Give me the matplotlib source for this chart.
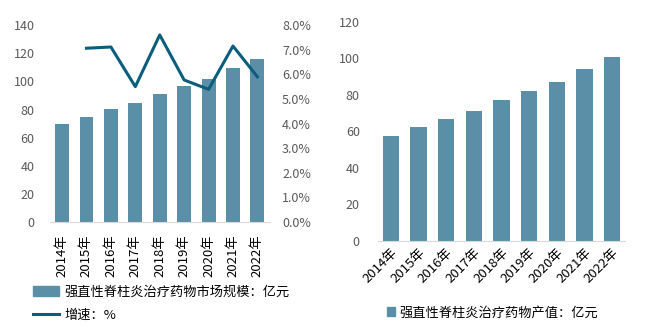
import matplotlib.pyplot as plt
import matplotlib.patches as mpatches
from matplotlib.lines import Line2D
from matplotlib.ticker import PercentFormatter

plt.rcParams['font.family'] = ['Noto Sans CJK SC', 'DejaVu Sans']

# data
years = ['2014年', '2015年', '2016年', '2017年', '2018年', '2019年', '2020年', '2021年', '2022年']
market = [69.8, 74.8, 80.4, 84.6, 90.8, 96.6, 101.6, 109.3, 115.8]
growth = [None, 7.06, 7.11, 5.50, 7.60, 5.77, 5.39, 7.15, 5.90]
output = [57.5, 62.4, 66.8, 71.2, 77.3, 82.2, 87.1, 94.2, 100.8]

bar_c = '#5b8fa7'
line_c = '#0a5d7c'
txt_c = '#595959'
axis_c = '#d9d9d9'

fig = plt.figure(figsize=(6.56, 3.30), dpi=100)

# left chart
ax = fig.add_axes([0.076, 0.327, 0.335, 0.597])
x = range(len(years))
ax.bar(x, market, width=0.57, color=bar_c, zorder=2)
ax.set_ylim(0, 140)
ax.set_yticks(range(0, 141, 20))
ax.set_xlim(-0.5, len(years) - 0.5)
ax.set_xticks(list(x))
ax.set_xticklabels(years, rotation=90, fontsize=9.5, color='black')
for s in ['top', 'left', 'right']:
    ax.spines[s].set_visible(False)
ax.spines['bottom'].set_color(axis_c)
ax.tick_params(axis='y', length=0, labelsize=9, colors=txt_c, pad=11)
ax.tick_params(axis='x', length=0, colors='black', pad=9)
ax2 = ax.twinx()
gx = [i for i, g in enumerate(growth) if g is not None]
gy = [g for g in growth if g is not None]
ax2.plot(gx, gy, color=line_c, lw=2.2, zorder=3)
ax2.set_ylim(0, 8)
ax2.set_yticks(range(0, 9))
ax2.yaxis.set_major_formatter(PercentFormatter(decimals=1))
for s in ['top', 'left', 'right', 'bottom']:
    ax2.spines[s].set_visible(False)
ax2.tick_params(axis='y', length=0, labelsize=9, colors=txt_c, pad=9)

h1 = mpatches.Patch(color=bar_c, label='强直性脊柱炎治疗药物市场规模：亿元')
h2 = Line2D([], [], color=line_c, lw=2.2, label='增速：%')
fig.legend(handles=[h1, h2], loc='upper left', bbox_to_anchor=(0.050, 0.135),
           frameon=False, fontsize=9.5, handlelength=1.95, handleheight=0.75,
           handletextpad=0.45, labelspacing=0.75, borderaxespad=0,
           borderpad=0, bbox_transform=fig.transFigure)

# right chart
bx = fig.add_axes([0.576, 0.270, 0.377, 0.664])
bx.bar(x, output, width=0.58, color=bar_c, zorder=2)
bx.set_ylim(0, 120)
bx.set_yticks(range(0, 121, 20))
bx.set_xlim(-0.47, len(years) - 0.53)
bx.set_xticks(list(x))
bx.set_xticklabels(years, rotation=45, ha='right', rotation_mode='anchor', fontsize=9.5)
for s in ['top', 'left', 'right']:
    bx.spines[s].set_visible(False)
bx.spines['bottom'].set_color(axis_c)
bx.tick_params(axis='y', length=0, labelsize=9, colors=txt_c, pad=13)
bx.tick_params(axis='x', length=0, colors='black', pad=4)
h3 = mpatches.Patch(color=bar_c, label='强直性脊柱炎治疗药物产值：亿元')
bx.legend(handles=[h3], loc='upper left', bbox_to_anchor=(0.590, 0.072),
          bbox_transform=fig.transFigure, frameon=False, fontsize=9.5,
          handlelength=0.6, handleheight=0.6, handletextpad=0.35,
          borderaxespad=0, borderpad=0)

fig.savefig('out.png', dpi=100)
